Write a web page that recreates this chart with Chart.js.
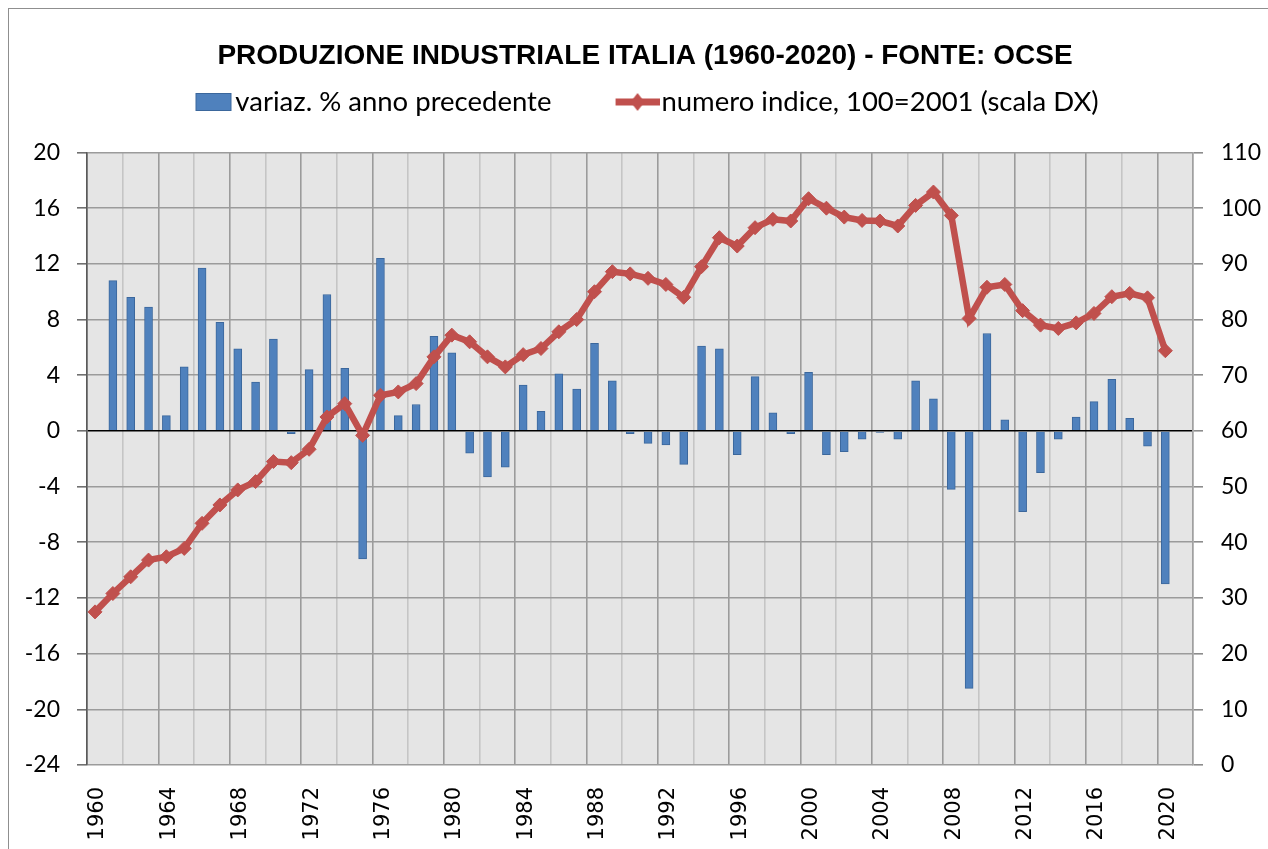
<!DOCTYPE html>
<html>
<head>
<meta charset="utf-8">
<script src="https://cdn.jsdelivr.net/npm/chart.js@4.4.1/dist/chart.umd.min.js"></script>
<style>
  html, body { margin: 0; padding: 0; background: #fff; overflow: hidden; }
  #wrap { position: relative; width: 1268px; height: 849px; }
  #frame { position: absolute; left: 8px; top: 8px; width: 1300px; height: 900px; border: 1.5px solid #8f8f8f; box-sizing: border-box; }
  canvas { position: absolute; left: 0; top: 0; }
</style>
</head>
<body>
<div id="wrap"><div id="frame"></div><canvas id="chart" width="1268" height="849"></canvas></div>
<script>
// anni della serie
const years = [
  1960, 1961, 1962, 1963, 1964, 1965, 1966, 1967, 1968, 1969,
  1970, 1971, 1972, 1973, 1974, 1975, 1976, 1977, 1978, 1979,
  1980, 1981, 1982, 1983, 1984, 1985, 1986, 1987, 1988, 1989,
  1990, 1991, 1992, 1993, 1994, 1995, 1996, 1997, 1998, 1999,
  2000, 2001, 2002, 2003, 2004, 2005, 2006, 2007, 2008, 2009,
  2010, 2011, 2012, 2013, 2014, 2015, 2016, 2017, 2018, 2019, 2020
];

// variaz. % anno precedente (scala SX)
const variazione = [
  null, 10.8, 9.6, 8.9, 1.1, 4.6, 11.7, 7.8, 5.9, 3.5,
  6.6, -0.2, 4.4, 9.8, 4.5, -9.2, 12.4, 1.1, 1.9, 6.8,
  5.6, -1.6, -3.3, -2.6, 3.3, 1.4, 4.1, 3.0, 6.3, 3.6,
  -0.2, -0.9, -1.0, -2.4, 6.1, 5.9, -1.7, 3.9, 1.3, -0.2,
  4.2, -1.7, -1.5, -0.6, -0.1, -0.6, 3.6, 2.3, -4.2, -18.5,
  7.0, 0.8, -5.8, -3.0, -0.6, 1.0, 2.1, 3.7, 0.9, -1.1, -11.0
];

// numero indice, 100=2001 (scala DX)
const indice = [
  27.5, 30.8, 33.8, 36.8, 37.4, 38.9, 43.4, 46.7, 49.4, 50.9,
  54.5, 54.3, 56.7, 62.5, 64.9, 59.2, 66.4, 67.0, 68.5, 73.3,
  77.2, 76.0, 73.3, 71.5, 73.7, 74.8, 77.8, 80.0, 85.0, 88.6,
  88.2, 87.4, 86.3, 84.0, 89.5, 94.7, 93.2, 96.5, 98.0, 97.7,
  101.7, 100.0, 98.4, 97.8, 97.7, 96.8, 100.5, 102.9, 98.7, 80.2,
  85.8, 86.3, 81.6, 79.0, 78.4, 79.4, 81.1, 84.1, 84.7, 83.9, 74.4
];

// etichette degli assi
const xTickYears = [1960, 1964, 1968, 1972, 1976, 1980, 1984, 1988, 1992, 1996, 2000, 2004, 2008, 2012, 2016, 2020];
const leftTicks = [20, 16, 12, 8, 4, 0, -4, -8, -12, -16, -20, -24];
const rightTicks = [110, 100, 90, 80, 70, 60, 50, 40, 30, 20, 10, 0];

const X_MIN = 1959.55;
const X_MAX = 2021.55;
const GRID_DARK = '#9b9b9b';
const GRID_LIGHT = '#c5c5c5';
const BLUE = '#4f81bd';
const RED = '#c0504d';

// simboli della legenda (quadrato blu, linea con rombo)
function legendMark(kind) {
  const c = document.createElement('canvas');
  c.width = 54;
  c.height = 22;
  const g = c.getContext('2d');
  if (kind === 'bar') {
    g.fillStyle = BLUE;
    g.fillRect(16, 2, 36, 18);
    g.strokeStyle = '#3b679c';
    g.lineWidth = 1;
    g.strokeRect(16.5, 2.5, 35, 17);
  } else {
    g.strokeStyle = RED;
    g.lineWidth = 7;
    g.beginPath();
    g.moveTo(10, 11);
    g.lineTo(54, 11);
    g.stroke();
    g.fillStyle = RED;
    g.beginPath();
    g.moveTo(32, 2);
    g.lineTo(39, 11);
    g.lineTo(32, 20);
    g.lineTo(25, 11);
    g.closePath();
    g.fill();
  }
  return c;
}
const legendMarks = [legendMark('bar'), legendMark('line')];

const plotBackground = {
  id: 'plotBackground',
  beforeDraw(chart) {
    const { ctx, chartArea: a } = chart;
    ctx.save();
    ctx.fillStyle = '#e5e5e5';
    ctx.fillRect(a.left, a.top, a.right - a.left, a.bottom - a.top);
    ctx.restore();
  }
};

const tickFont = { family: 'Lato', size: 23 };

new Chart(document.getElementById('chart'), {
  data: {
    datasets: [
      {
        type: 'bar',
        label: 'variaz. % anno precedente',
        data: years.map((yr, i) => ({ x: yr, y: variazione[i] })),
        backgroundColor: BLUE,
        borderColor: '#3b679c',
        borderWidth: 1,
        barThickness: 8,
        xAxisID: 'x',
        yAxisID: 'y',
        order: 1
      },
      {
        type: 'line',
        label: 'numero indice, 100=2001 (scala DX)',
        data: years.map((yr, i) => ({ x: yr, y: indice[i] })),
        borderColor: RED,
        borderWidth: 6.5,
        backgroundColor: RED,
        pointStyle: 'rectRot',
        pointRadius: 7,
        pointBackgroundColor: RED,
        pointBorderColor: RED,
        pointBorderWidth: 1,
        tension: 0,
        xAxisID: 'x',
        yAxisID: 'y2',
        order: 0
      }
    ]
  },
  options: {
    responsive: false,
    animation: false,
    devicePixelRatio: 1,
    layout: { padding: { left: 22, right: 0, top: 0, bottom: 0 } },
    scales: {
      x: {
        type: 'linear',
        position: 'bottom',
        offset: false,
        min: X_MIN,
        max: X_MAX,
        grid: { display: false, drawTicks: false, offset: false },
        border: { display: false },
        afterBuildTicks: s => { s.ticks = xTickYears.map(v => ({ value: v })); },
        ticks: {
          minRotation: 90,
          maxRotation: 90,
          autoSkip: false,
          padding: 22,
          labelOffset: 3,
          color: '#000',
          font: { family: 'DejaVu Sans', size: 21 },
          callback: v => String(v)
        },
        afterFit: s => { s.height = 84; }
      },
      xg: {
        type: 'linear',
        position: 'bottom',
        offset: false,
        min: X_MIN,
        max: X_MAX,
        afterBuildTicks: s => {
          const t = [];
          for (let v = X_MIN; v <= X_MAX + 0.01; v += 2) t.push({ value: v });
          s.ticks = t;
        },
        grid: {
          color: c => (c.index % 2 === 0 ? GRID_DARK : GRID_LIGHT),
          lineWidth: 1.6,
          drawTicks: false
        },
        border: { display: false },
        ticks: { display: false },
        afterFit: s => { s.height = 0; }
      },
      y: {
        position: 'left',
        min: -24,
        max: 20,
        ticks: {
          stepSize: 2,
          padding: 17,
          color: '#000',
          font: tickFont,
          callback: v => (leftTicks.includes(v) ? String(v) : '')
        },
        grid: {
          color: c => (c.tick.value === 0 ? '#000' : (c.tick.value % 4 === 0 ? GRID_DARK : GRID_LIGHT)),
          lineWidth: 1.6,
          tickLength: 10,
          tickColor: c => (c.tick.value % 4 === 0 ? '#707070' : 'rgba(0,0,0,0)')
        },
        border: { color: '#5a5a5a', width: 1.6 },
        afterFit: s => { s.width = 65; }
      },
      y2: {
        position: 'right',
        min: 0,
        max: 110,
        ticks: {
          stepSize: 10,
          padding: 18,
          color: '#000',
          font: tickFont,
          callback: v => (rightTicks.includes(v) ? String(v) : '')
        },
        grid: {
          drawOnChartArea: false,
          tickLength: 10,
          tickColor: '#8c8c8c',
          lineWidth: 1.6
        },
        border: { color: '#a0a0a0', width: 1.6 },
        afterFit: s => { s.width = 75; }
      }
    },
    plugins: {
      tooltip: { enabled: false },
      title: {
        display: true,
        text: 'PRODUZIONE INDUSTRIALE ITALIA (1960-2020) - FONTE: OCSE',
        color: '#000',
        font: { family: "'Liberation Sans', Arial, sans-serif", size: 28, weight: 'bold' },
        padding: { top: 39, bottom: -50.35 }
      },
      // spazio vuoto tra legenda e area del grafico
      subtitle: {
        display: true,
        text: '',
        weight: 500,
        font: { size: 1, lineHeight: 1 },
        padding: { top: 25.75, bottom: 0 }
      },
      legend: {
        display: true,
        position: 'top',
        labels: {
          usePointStyle: true,
          pointStyleWidth: 30.25,
          padding: 66,
          color: '#000',
          font: { family: 'Lato', size: 27.5 },
          sort: (a, b) => a.datasetIndex - b.datasetIndex,
          generateLabels: chart => {
            const items = Chart.defaults.plugins.legend.labels.generateLabels(chart);
            items.forEach(it => {
              it.pointStyle = legendMarks[it.datasetIndex];
              it.rotation = 0;
            });
            return items;
          }
        }
      }
    }
  },
  plugins: [plotBackground]
});
</script>
</body>
</html>
